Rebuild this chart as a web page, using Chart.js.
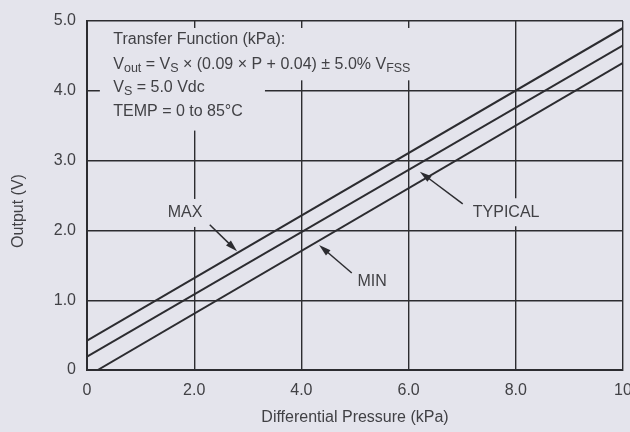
<!DOCTYPE html>
<html>
<head>
<meta charset="utf-8">
<script src="https://cdn.jsdelivr.net/npm/chart.js@4/dist/chart.umd.min.js"></script>
<style>
  html, body { margin: 0; padding: 0; background: #e4e4ec; }
  canvas { display: block; }
</style>
</head>
<body>
<canvas id="c" width="630" height="432"></canvas>
<script>
// Output voltage vs. differential pressure (kPa), Vs = 5.0 Vdc
const pressureTypical = [0, 10];
const outputTypical   = [0.19, 4.65];
const pressureMax     = [0, 10];
const outputMax       = [0.42, 4.9];
const pressureMin     = [0.2, 10];
const outputMin       = [0, 4.4];

const xTickValues = [0, 2, 4, 6, 8, 10];
const xTickLabels = ['0', '2.0', '4.0', '6.0', '8.0', '10'];
const yTickValues = [0, 1, 2, 3, 4, 5];
const yTickLabels = ['0', '1.0', '2.0', '3.0', '4.0', '5.0'];

const BG = '#e4e4ec';
const INK = '#2c2c30';
const TEXT = '#414145';
const FONT = '"Liberation Sans", Arial, sans-serif';

const toPoints = (xs, ys) => xs.map((x, i) => ({ x, y: ys[i] }));

// Curve callouts: label centre and arrow tail/tip, in (kPa, V)
const callouts = [
  { text: 'MAX',     at: [1.83, 2.25], from: [2.29, 2.08], to: [2.80, 1.70] },
  { text: 'MIN',     at: [5.32, 1.26], from: [4.94, 1.39], to: [4.33, 1.79] },
  { text: 'TYPICAL', at: [7.82, 2.26], from: [7.01, 2.38], to: [6.21, 2.84] }
];

// Transfer-function note, drawn as runs so subscripts can be set lower
const noteLines = [
  [{ t: 'Transfer Function (kPa):' }],
  [{ t: 'V' }, { t: 'out', sub: true }, { t: ' = V' }, { t: 'S', sub: true },
   { t: ' \u00d7 (0.09 \u00d7 P + 0.04) \u00b1 5.0% V' }, { t: 'FSS', sub: true }],
  [{ t: 'V' }, { t: 'S', sub: true }, { t: ' = 5.0 Vdc' }],
  [{ t: 'TEMP = 0 to 85\u00b0C' }]
];

function drawArrow(ctx, x0, y0, x1, y1) {
  const ang = Math.atan2(y1 - y0, x1 - x0);
  const len = 12, half = 3.5;
  ctx.strokeStyle = INK;
  ctx.fillStyle = INK;
  ctx.lineWidth = 1.5;
  ctx.beginPath();
  ctx.moveTo(x0, y0);
  ctx.lineTo(x1 - Math.cos(ang) * len * 0.8, y1 - Math.sin(ang) * len * 0.8);
  ctx.stroke();
  ctx.beginPath();
  ctx.moveTo(x1, y1);
  ctx.lineTo(x1 - Math.cos(ang) * len + Math.sin(ang) * half,
             y1 - Math.sin(ang) * len - Math.cos(ang) * half);
  ctx.lineTo(x1 - Math.cos(ang) * len - Math.sin(ang) * half,
             y1 - Math.sin(ang) * len + Math.cos(ang) * half);
  ctx.closePath();
  ctx.fill();
}

function drawRuns(ctx, runs, x, y) {
  let cx = x;
  for (const r of runs) {
    ctx.font = r.sub ? '12.5px ' + FONT : '16px ' + FONT;
    ctx.fillText(r.t, cx, r.sub ? y + 4 : y);
    cx += ctx.measureText(r.t).width;
  }
  return cx - x;
}

const decorations = {
  id: 'decorations',
  beforeDraw(chart) {
    const ctx = chart.ctx;
    ctx.save();
    ctx.fillStyle = BG;
    ctx.fillRect(0, 0, chart.width, chart.height);
    ctx.restore();
  },
  afterDatasetsDraw(chart) {
    const ctx = chart.ctx;
    const xs = chart.scales.x, ys = chart.scales.y;
    const px = v => xs.getPixelForValue(v);
    const py = v => ys.getPixelForValue(v);
    ctx.save();

    // note block sits on a clear panel over the grid
    ctx.fillStyle = BG;
    ctx.fillRect(px(0.24), py(4.9), px(6.04) - px(0.24), py(4.15) - py(4.9));
    ctx.fillRect(px(0.24), py(4.15), px(3.32) - px(0.24), py(3.43) - py(4.15));

    ctx.fillStyle = TEXT;
    ctx.textBaseline = 'middle';
    ctx.textAlign = 'left';
    const noteY = [4.73, 4.38, 4.04, 3.70];
    noteLines.forEach((runs, i) => drawRuns(ctx, runs, px(0.49), py(noteY[i])));

    // callout labels and arrows
    ctx.font = '16px ' + FONT;
    ctx.textAlign = 'center';
    for (const c of callouts) {
      const w = ctx.measureText(c.text).width;
      const lx = px(c.at[0]), ly = py(c.at[1]);
      ctx.fillStyle = BG;
      ctx.fillRect(lx - w / 2 - 4, ly - 14, w + 8, 28);
      ctx.fillStyle = TEXT;
      ctx.fillText(c.text, lx, ly);
      drawArrow(ctx, px(c.from[0]), py(c.from[1]), px(c.to[0]), py(c.to[1]));
    }

    // y axis title
    ctx.translate(19, 211);
    ctx.rotate(-Math.PI / 2);
    ctx.font = '16px ' + FONT;
    ctx.fillStyle = TEXT;
    ctx.textAlign = 'center';
    ctx.fillText('Output (V)', 0, 0);
    ctx.restore();
  }
};

const lineStyle = { borderColor: INK, borderWidth: 2, pointRadius: 0, fill: false, tension: 0 };

new Chart(document.getElementById('c'), {
  type: 'line',
  data: {
    datasets: [
      { label: 'MAX', data: toPoints(pressureMax, outputMax), ...lineStyle },
      { label: 'TYPICAL', data: toPoints(pressureTypical, outputTypical), ...lineStyle },
      { label: 'MIN', data: toPoints(pressureMin, outputMin), ...lineStyle }
    ]
  },
  options: {
    responsive: false,
    animation: false,
    events: [],
    layout: { padding: { top: 21, right: 7, left: 0, bottom: 0 } },
    plugins: { legend: { display: false }, tooltip: { enabled: false } },
    scales: {
      x: {
        type: 'linear',
        min: 0, max: 10,
        afterBuildTicks: s => { s.ticks = xTickValues.map(v => ({ value: v })); },
        afterFit: s => { s.height = 62; s.paddingLeft = 0; s.paddingRight = 0; },
        ticks: {
          padding: 11,
          color: TEXT,
          font: { family: FONT, size: 16 },
          maxRotation: 0,
          callback: v => xTickLabels[xTickValues.indexOf(v)]
        },
        grid: { color: INK, lineWidth: 1.4, drawTicks: false },
        border: { color: INK, width: 2 },
        title: {
          display: true,
          text: 'Differential Pressure (kPa)',
          color: TEXT,
          font: { family: FONT, size: 16 },
          padding: { top: 0, bottom: 5 }
        }
      },
      y: {
        type: 'linear',
        min: 0, max: 5,
        afterBuildTicks: s => { s.ticks = yTickValues.map(v => ({ value: v })); },
        afterFit: s => { s.width = 87; s.paddingTop = 0; s.paddingBottom = 0; },
        ticks: {
          padding: 11,
          color: TEXT,
          font: { family: FONT, size: 16 },
          callback: v => yTickLabels[yTickValues.indexOf(v)]
        },
        grid: { color: INK, lineWidth: 1.4, drawTicks: false },
        border: { color: INK, width: 2 }
      }
    }
  },
  plugins: [decorations]
});
</script>
</body>
</html>
